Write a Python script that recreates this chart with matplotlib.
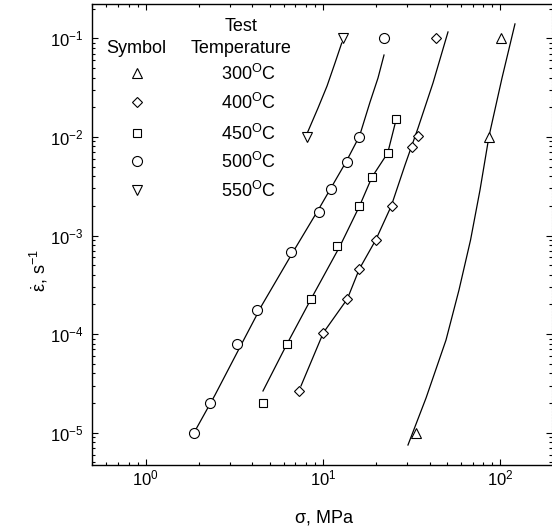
import matplotlib
matplotlib.use('Agg')
import matplotlib.pyplot as plt
from matplotlib.lines import Line2D

plt.rcParams['font.family'] = ['Liberation Sans', 'DejaVu Sans']
plt.rcParams['mathtext.fontset'] = 'custom'
plt.rcParams['mathtext.rm'] = 'Liberation Sans'
plt.rcParams['mathtext.it'] = 'Liberation Sans'
plt.rcParams['mathtext.bf'] = 'Liberation Sans:bold'
plt.rcParams['mathtext.default'] = 'regular'

temps = ['300', '400', '450', '500', '550']
markers = ['^', 'D', 's', 'o', 'v']

# measured points: stress (MPa), strain rate (1/s)
stress_300 = [33.5, 86.2, 101.2]
rate_300 = [1.0e-5, 1.0e-2, 1.0e-1]
stress_400 = [7.33, 10.05, 13.73, 16.05, 19.86, 24.45, 31.8, 34.6, 43.3]
rate_400 = [2.67e-5, 1.03e-4, 2.27e-4, 4.54e-4, 9.0e-4, 1.99e-3, 7.85e-3, 1.02e-2, 1.0e-1]
stress_450 = [4.59, 6.27, 8.60, 12.06, 16.05, 18.86, 23.2, 25.85]
rate_450 = [2.0e-5, 7.9e-5, 2.29e-4, 7.76e-4, 1.99e-3, 3.94e-3, 6.82e-3, 1.51e-2]
stress_500 = [1.874, 2.315, 3.263, 4.23, 6.61, 9.54, 11.11, 13.68, 16.05, 22.1]
rate_500 = [1.0e-5, 2.0e-5, 7.9e-5, 1.74e-4, 6.76e-4, 1.74e-3, 2.99e-3, 5.52e-3, 1.0e-2, 1.0e-1]
stress_550 = [8.17, 13.04]
rate_550 = [1.0e-2, 1.0e-1]

# fitted curves
curve_stress_300 = [30.2, 38.2, 49.5, 58.6, 68.1, 77.0, 86.6, 102.5, 121.3]
curve_rate_300 = [7.5e-6, 2.25e-5, 8.7e-5, 2.80e-4, 9.0e-4, 2.89e-3, 1.02e-2, 3.96e-2, 0.14]
curve_stress_400 = [7.52, 10.05, 13.73, 16.05, 19.86, 24.3, 29.06, 34.41, 41.8, 50.8]
curve_rate_400 = [2.98e-5, 1.03e-4, 2.27e-4, 4.57e-4, 9.0e-4, 1.99e-3, 5.19e-3, 1.23e-2, 3.52e-2, 0.116]
curve_stress_450 = [4.59, 6.27, 8.57, 12.49, 16.09, 18.93, 23.21, 25.85]
curve_rate_450 = [2.65e-5, 7.94e-5, 2.27e-4, 7.82e-4, 1.99e-3, 3.92e-3, 6.87e-3, 1.48e-2]
curve_stress_500 = [1.874, 2.46, 3.45, 4.53, 6.78, 9.63, 13.50, 16.09, 18.45, 20.46, 22.12]
curve_rate_500 = [1.0e-5, 2.41e-5, 7.74e-5, 1.97e-4, 6.8e-4, 1.95e-3, 5.57e-3, 1.02e-2, 2.26e-2, 3.96e-2, 6.77e-2]
curve_stress_550 = [8.17, 9.38, 10.55, 11.70, 12.77]
curve_rate_550 = [1.10e-2, 1.96e-2, 3.28e-2, 5.62e-2, 8.96e-2]

points = [(stress_300, rate_300), (stress_400, rate_400), (stress_450, rate_450),
          (stress_500, rate_500), (stress_550, rate_550)]
curves = [(curve_stress_300, curve_rate_300), (curve_stress_400, curve_rate_400),
          (curve_stress_450, curve_rate_450), (curve_stress_500, curve_rate_500),
          (curve_stress_550, curve_rate_550)]
msizes = [7.5, 5.6, 6.0, 7.2, 7.5]

fig = plt.figure(figsize=(5.52, 5.28), dpi=100)
ax = fig.add_axes([0.1661, 0.1184, 0.833, 0.874])
ax.set_xscale('log')
ax.set_yscale('log')
ax.set_xlim(0.4956, 195)
ax.set_ylim(4.65e-6, 0.2228)

for (cs, cr) in curves:
    ax.plot(cs, cr, color='black', lw=0.9, zorder=2)
for (ps, pr), m, ms in zip(points, markers, msizes):
    ax.plot(ps, pr, linestyle='none', marker=m, ms=ms, mfc='white',
            mec='black', mew=0.8, zorder=3)

# legend drawn manually
ax.text(0.0979, 0.904, 'Symbol', transform=ax.transAxes, ha='center', va='center', fontsize=13)
ax.text(0.325, 0.951, 'Test', transform=ax.transAxes, ha='center', va='center', fontsize=13)
ax.text(0.325, 0.904, 'Temperature', transform=ax.transAxes, ha='center', va='center', fontsize=13)
rows = [0.8511, 0.7883, 0.7211, 0.6598, 0.5970]
for t, m, ms, ry in zip(temps, markers, msizes, rows):
    ax.add_line(Line2D([0.0979], [ry], transform=ax.transAxes, linestyle='none', marker=m,
                       ms=ms, mfc='white', mec='black', mew=0.8))
    ax.text(0.2806, ry - 0.0150, t + r'$^{\mathregular{O}}$C', transform=ax.transAxes,
            ha='left', va='baseline', fontsize=13)

ax.tick_params(which='both', direction='in', top=True, right=True, width=0.8)
ax.tick_params(which='major', length=4.5, labelsize=12)
ax.tick_params(which='minor', length=2.5)
ax.tick_params(axis='x', which='major', pad=2)
ax.tick_params(axis='y', which='major', pad=6)
for s in ['left', 'bottom', 'top']:
    ax.spines[s].set_linewidth(1.0)
ax.spines['right'].set_linestyle(':')
ax.spines['right'].set_color('0.5')
ax.spines['right'].set_linewidth(0.8)

fig.text(0.587, 0.0195, r'$\sigma$, MPa', ha='center', va='center', fontsize=13)
fig.text(0.0697, 0.4886, r'$\dot{\varepsilon}$, s$^{-1}$', ha='center', va='center',
         rotation=90, fontsize=13)

fig.savefig('out.png', dpi=100)
